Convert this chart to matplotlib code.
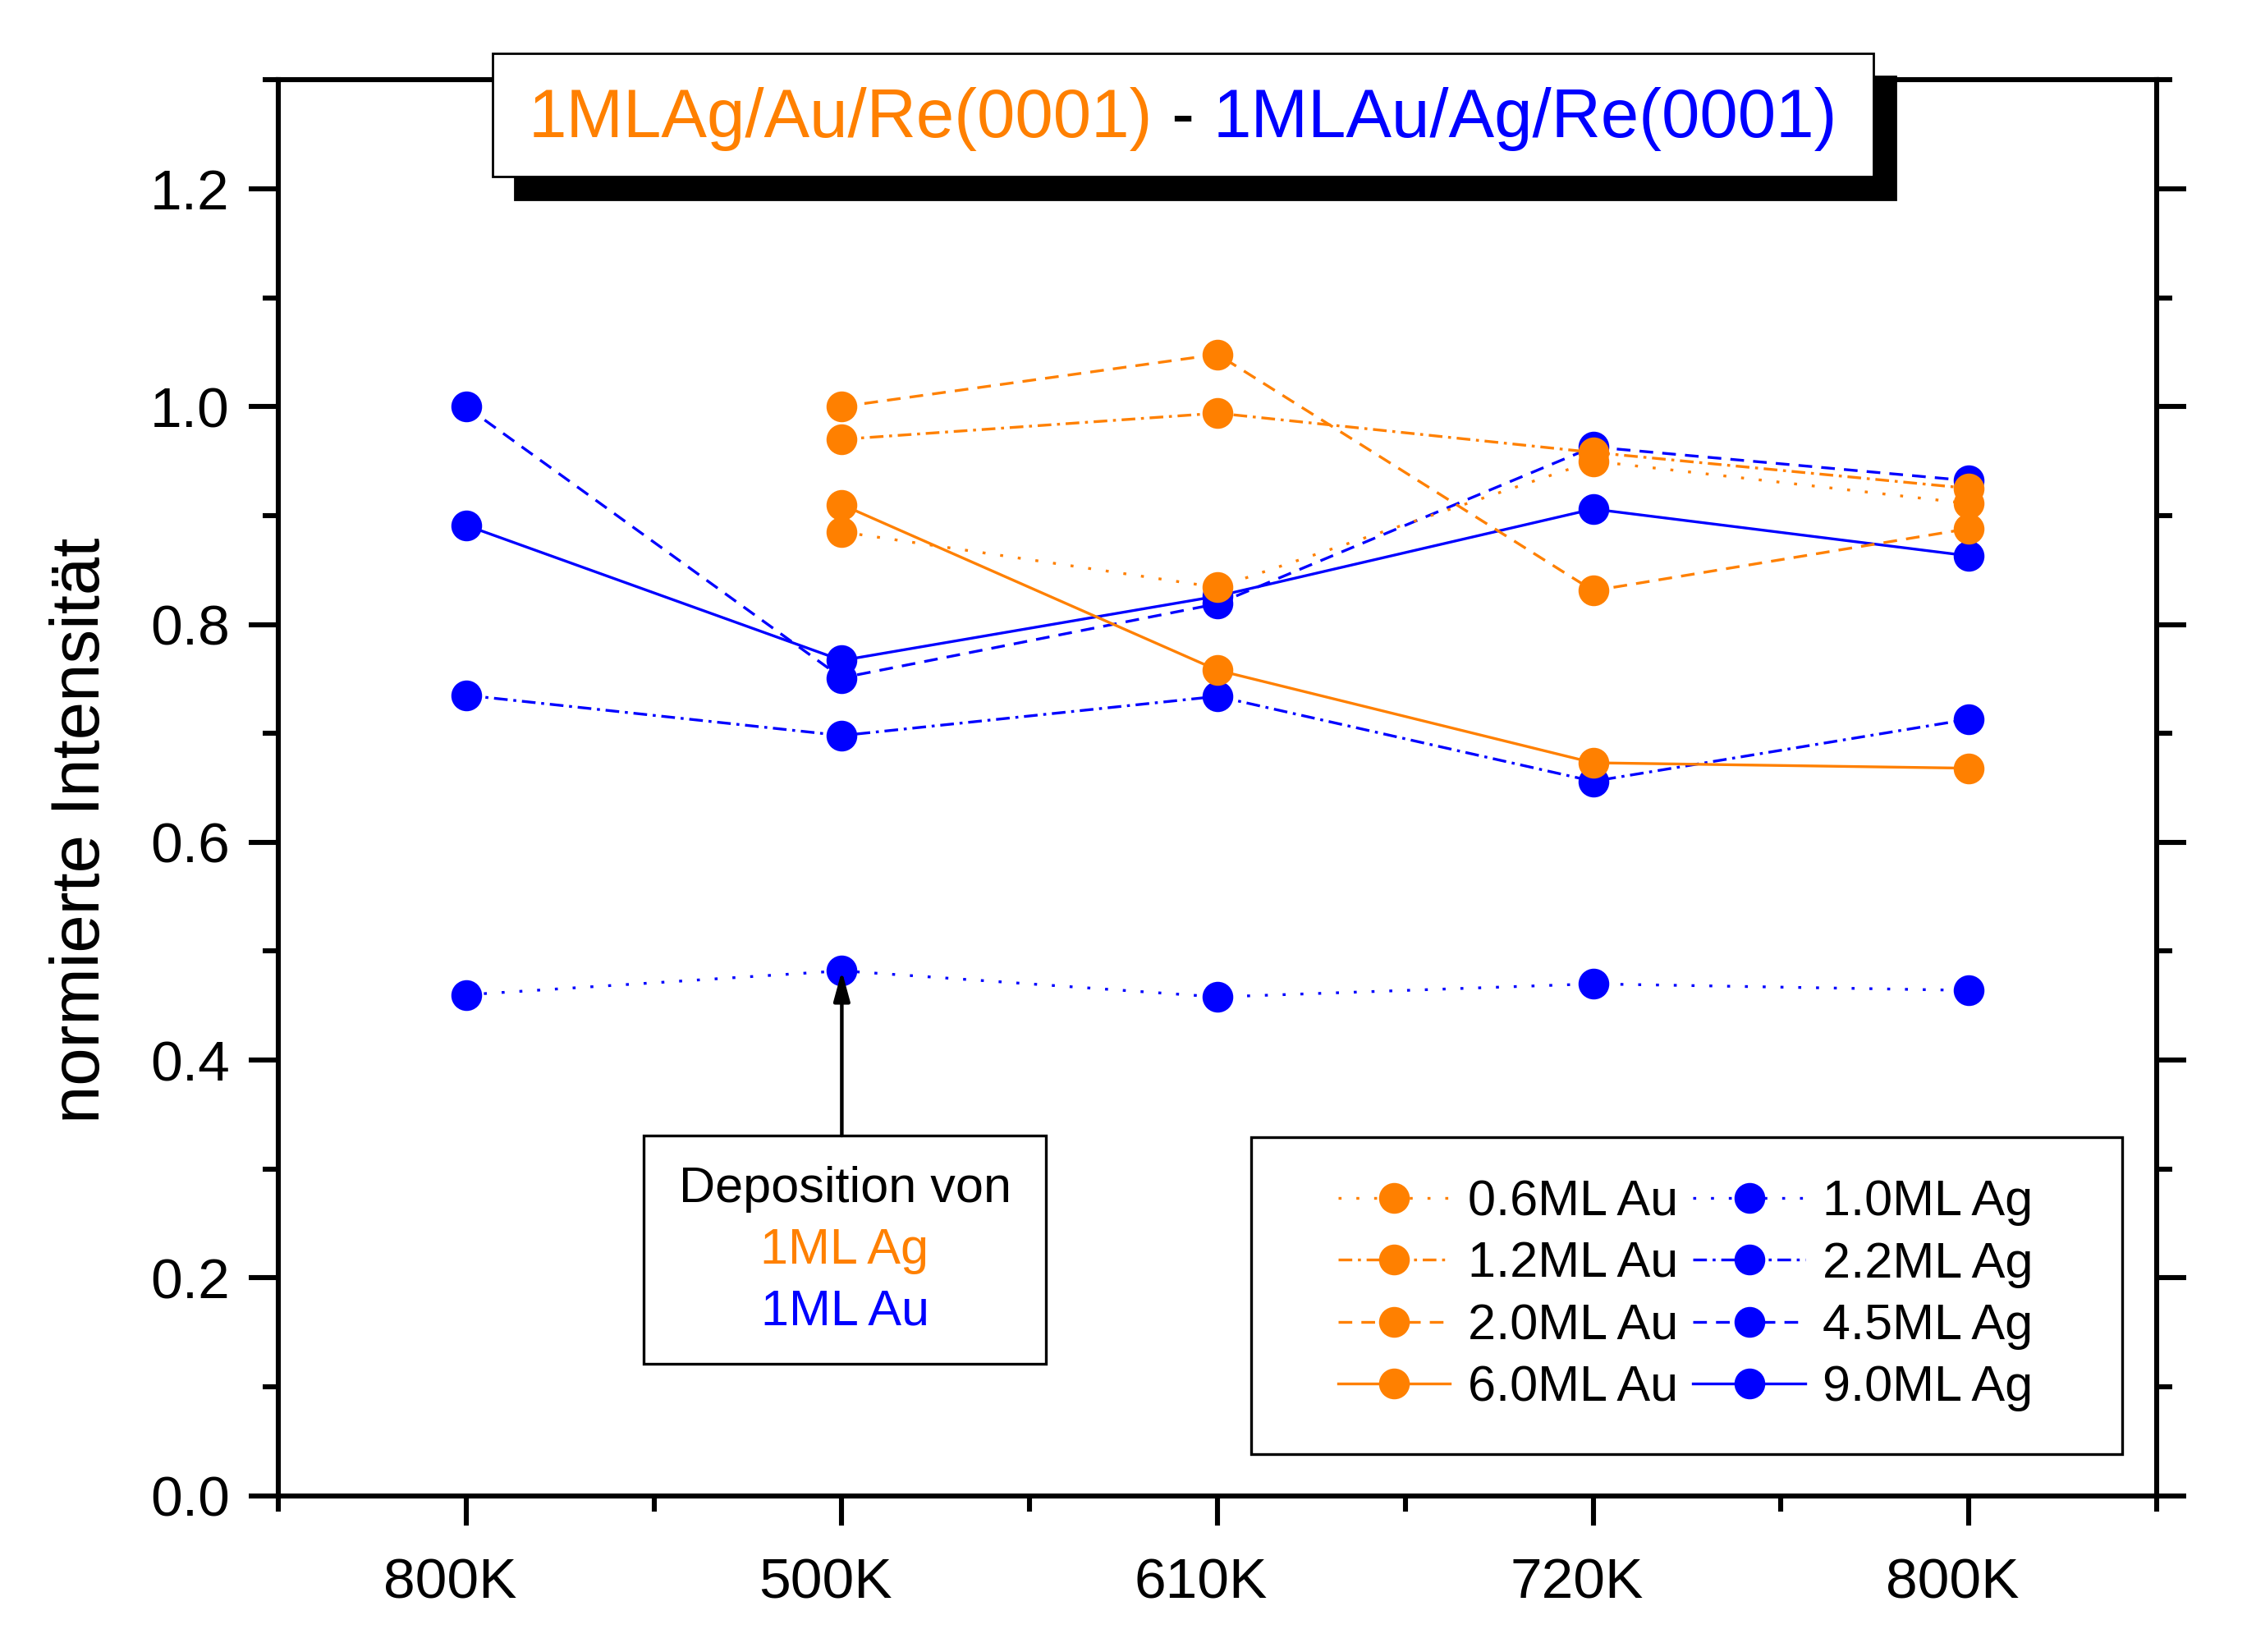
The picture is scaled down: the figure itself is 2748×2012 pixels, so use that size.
import numpy as np
import matplotlib
matplotlib.use('Agg')
import matplotlib.pyplot as plt
import matplotlib.transforms as mtransforms
from matplotlib.patches import Rectangle
from matplotlib.offsetbox import TextArea, HPacker, AnchoredOffsetbox
from matplotlib.ticker import MultipleLocator, FormatStrFormatter

plt.rcParams['font.family'] = ['Liberation Sans', 'DejaVu Sans']
plt.rcParams['lines.scale_dashes'] = False

ORANGE = '#FF8000'
BLUE = '#0000FF'

# data
temps = ['800K', '500K', '610K', '720K', '800K']
nan = np.nan

au_labels = ['0.6ML Au', '1.2ML Au', '2.0ML Au', '6.0ML Au']
au_06 = [nan, 0.885, 0.834, 0.950, 0.911]
au_12 = [nan, 0.970, 0.994, 0.958, 0.925]
au_20 = [nan, 1.000, 1.048, 0.831, 0.888]
au_60 = [nan, 0.910, 0.758, 0.673, 0.668]

ag_labels = ['1.0ML Ag', '2.2ML Ag', '4.5ML Ag', '9.0ML Ag']
ag_10 = [0.460, 0.482, 0.458, 0.470, 0.464]
ag_22 = [0.735, 0.698, 0.734, 0.656, 0.713]
ag_45 = [1.000, 0.751, 0.819, 0.963, 0.932]
ag_90 = [0.891, 0.767, 0.826, 0.906, 0.863]

x = np.arange(len(temps))
styles = [(0, (1.3, 6.5)), (0, (6, 2.5, 1.3, 2.5)), (0, (6, 4)), '-']

fig = plt.figure(figsize=(13.74, 10.06), dpi=200)
ax = fig.add_axes([0.12336, 0.09458, 0.83261, 0.85706])

# blue first so the orange markers sit on top
ag_handles = []
for vals, lab, ls in zip([ag_10, ag_22, ag_45, ag_90], ag_labels, styles):
    h, = ax.plot(x, vals, color=BLUE, ls=ls, lw=1.2, marker='o', ms=12.5,
                 mfc=BLUE, mec=BLUE, label=lab)
    ag_handles.append(h)
au_handles = []
for vals, lab, ls in zip([au_06, au_12, au_20, au_60], au_labels, styles):
    h, = ax.plot(x, vals, color=ORANGE, ls=ls, lw=1.2, marker='o', ms=12.5,
                 mfc=ORANGE, mec=ORANGE, label=lab)
    au_handles.append(h)

ax.set_xlim(-0.5, 4.5)
ax.set_ylim(0, 1.3)
ax.set_xticks(x)
ax.set_xticklabels(temps)
ax.xaxis.set_minor_locator(MultipleLocator(0.5))
ax.set_yticks(np.arange(0, 1.21, 0.2))
ax.yaxis.set_major_formatter(FormatStrFormatter('%.1f'))
ax.yaxis.set_minor_locator(MultipleLocator(0.1))
ax.tick_params(which='both', direction='out', left=True, right=True,
               top=False, bottom=True, width=2.2, labelsize=25)
ax.tick_params(which='major', length=13)
ax.tick_params(which='minor', length=6.8)
ax.tick_params(axis='x', pad=14)
ax.tick_params(axis='y', pad=8.3)
for sp in ax.spines.values():
    sp.set_linewidth(2.2)

# x labels sit a little left of their ticks in the original
shift = mtransforms.ScaledTranslation(-0.1, 0, fig.dpi_scale_trans)
for lbl in ax.get_xticklabels():
    lbl.set_transform(lbl.get_transform() + shift)

ax.set_ylabel('normierte Intensität', fontsize=30)
ax.yaxis.set_label_coords(-0.088, 0.47)

# legend with its own frame
ax.add_patch(Rectangle((0.5181, 0.0294), 0.4635, 0.2238, transform=ax.transAxes,
                       fc='white', ec='black', lw=1.2, zorder=4))
leg = ax.legend(handles=au_handles + ag_handles, ncol=2, frameon=False,
                loc='upper left', bbox_to_anchor=(0.5643, 0.2234),
                borderpad=0, borderaxespad=0, fontsize=22, handlelength=2.23,
                handletextpad=0.35, columnspacing=0.3, labelspacing=0.3)
leg.set_zorder(5)

# deposition note with arrow
ax.add_patch(Rectangle((0.472, 0.1212), 1.071, 0.2095, fc='white', ec='black',
                       lw=1.2, zorder=4))
ax.text(1.008, 0.2697, 'Deposition von', fontsize=22, ha='center', va='baseline', zorder=5)
ax.text(1.008, 0.2131, '1ML Ag', fontsize=22, color=ORANGE, ha='center', va='baseline', zorder=5)
ax.text(1.008, 0.1573, '1ML Au', fontsize=22, color=BLUE, ha='center', va='baseline', zorder=5)
ax.annotate('', xy=(x[1], ag_10[1]), xytext=(x[1], 0.3307),
            arrowprops=dict(arrowstyle='-|>,head_length=1.1,head_width=0.3',
                            color='black', lw=1.6, shrinkA=0, shrinkB=0),
            zorder=6)

# title box with shadow
fig.add_artist(Rectangle((0.2281, 0.8792), 0.6121, 0.0746, transform=fig.transFigure,
                         fc='black', ec='black', lw=1.0, zorder=9))
fig.add_artist(Rectangle((0.2183, 0.8931), 0.6121, 0.0746, transform=fig.transFigure,
                         fc='white', ec='black', lw=1.0, zorder=10))
parts = [TextArea('1MLAg/Au/Re(0001)', textprops=dict(color=ORANGE, fontsize=30)),
         TextArea(' - ', textprops=dict(color='black', fontsize=30)),
         TextArea('1MLAu/Ag/Re(0001)', textprops=dict(color=BLUE, fontsize=30))]
pack = HPacker(children=parts, align='baseline', pad=0, sep=0)
title = AnchoredOffsetbox(loc='center', child=pack, pad=0, borderpad=0, frameon=False,
                          bbox_to_anchor=(0.5244, 0.928), bbox_transform=fig.transFigure)
title.set_zorder(11)
fig.add_artist(title)

fig.savefig('out.png', dpi=200)
